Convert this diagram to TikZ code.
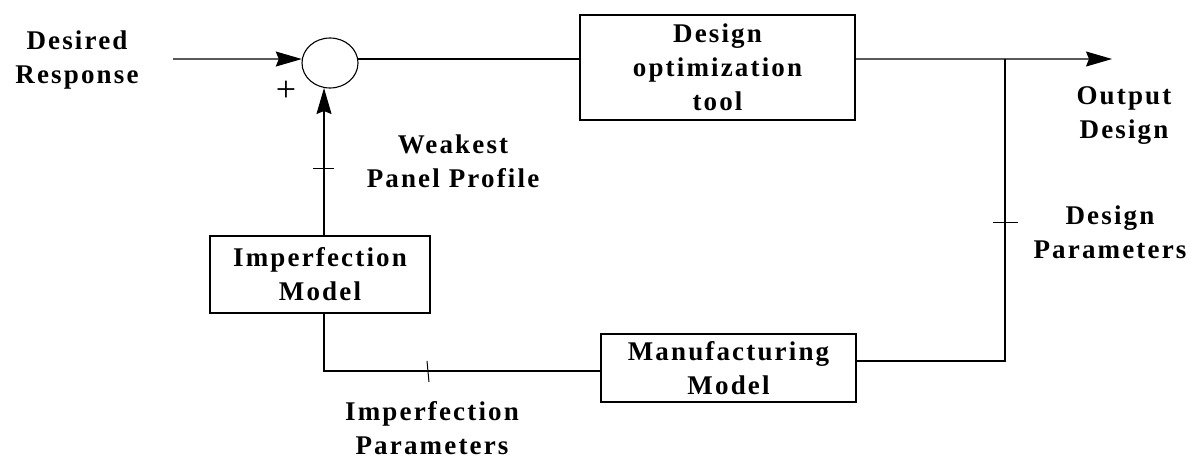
\documentclass[tikz,border=0pt]{standalone}
\usepackage{fontspec}
\setmainfont{Liberation Serif}[LetterSpace=8]
\usetikzlibrary{shapes.geometric,arrows.meta}
\begin{document}
\begin{tikzpicture}[x=1pt,y=-1pt,
  line width=1.1pt,
  lbl/.style={align=center,inner sep=0pt,font=\fontsize{27}{34}\selectfont\bfseries},
  blk/.style={draw,rectangle,line width=1.1pt,inner sep=0pt,align=center,font=\fontsize{27}{34}\selectfont\bfseries},
  arr/.style={-{Stealth[length=26pt,width=15pt,inset=3pt]}},
  tick/.style={line width=1pt}]
\useasboundingbox (0,0) rectangle (1201,458);
% nodes
\node[lbl] (desired) at (77,60) {Desired\\Response};
\node[draw,ellipse,minimum width=56pt,minimum height=50pt,inner sep=0pt] (sum) at (330,63) {};
\node[lbl,font=\fontsize{36}{38}\selectfont\mdseries] (plus) at (286,91) {+};
\node[blk,minimum width=275pt,minimum height=105pt] (opt) at (717.5,67.5) {Design\\optimization\\tool};
\node[blk,minimum width=220pt,minimum height=77pt] (imp) at (320,274.5) {Imperfection\\Model};
\node[blk,minimum width=255pt,minimum height=68pt] (man) at (728.5,368) {Manufacturing\\Model};
\node[lbl] (weak) at (453,161) {Weakest\\Panel Profile};
\node[lbl] (outd) at (1124,116) {Output\\Design};
\node[lbl] (dpar) at (1110,232) {Design\\Parameters};
\node[lbl] (ipar) at (432,428) {Imperfection\\Parameters};
% coordinates
\coordinate (in) at (173,59);
\coordinate (tip) at (1112,59);
\coordinate (j) at (1005,59);
\coordinate (jb) at (1005,361);
\coordinate (mr) at (856,361);
\coordinate (ib) at (324,313);
\coordinate (it) at (324,236);
\coordinate (st) at (324,88);
\coordinate (bl) at (324,371);
\coordinate (ml) at (601,371);
% connectors
\draw[arr] (in) -- (sum.172);
\draw (sum.8) -- (sum.8 -| opt.west);
\draw[arr] (sum.8 -| opt.east) -- (tip);
\draw (j) -- (jb) -- (mr);
\draw (ib) -- (bl) -- (ml);
\draw[arr] (it) -- (st);
% ticks
\coordinate (t1a) at (313,168); \coordinate (t1b) at (334,168);
\draw[tick] (t1a) -- (t1b);
\coordinate (t2a) at (427,361); \coordinate (t2b) at (429,382);
\draw[tick] (t2a) -- (t2b);
\coordinate (t3a) at (993,222); \coordinate (t3b) at (1018,222);
\draw[tick] (t3a) -- (t3b);
\end{tikzpicture}
\end{document}
